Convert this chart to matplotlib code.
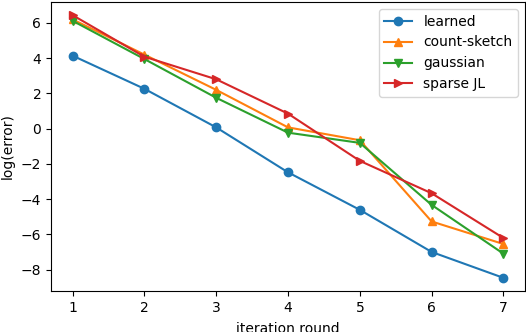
import matplotlib
matplotlib.use("Agg")
import matplotlib.pyplot as plt

rounds = [1, 2, 3, 4, 5, 6, 7]
learned = [4.14, 2.26, 0.07, -2.48, -4.61, -7.0, -8.47]
count_sketch = [6.2, 4.2, 2.2, 0.07, -0.66, -5.27, -6.55]
gaussian = [6.12, 3.95, 1.75, -0.23, -0.81, -4.33, -7.1]
sparse_jl = [6.44, 4.08, 2.8, 0.85, -1.83, -3.67, -6.21]

fig = plt.figure(figsize=(5.26, 3.32), dpi=100)
ax = fig.add_axes([51/526, 1 - 291/332, (525-51)/526, (291-2)/332])
ax.plot(rounds, learned, marker='o', label='learned')
ax.plot(rounds, count_sketch, marker='^', label='count-sketch')
ax.plot(rounds, gaussian, marker='v', label='gaussian')
ax.plot(rounds, sparse_jl, marker='>', label='sparse JL')
ax.set_xlabel('iteration round', labelpad=5.5)
ax.set_ylabel('log(error)')
ax.legend(loc='upper right')
fig.savefig('out.png', dpi=100)
